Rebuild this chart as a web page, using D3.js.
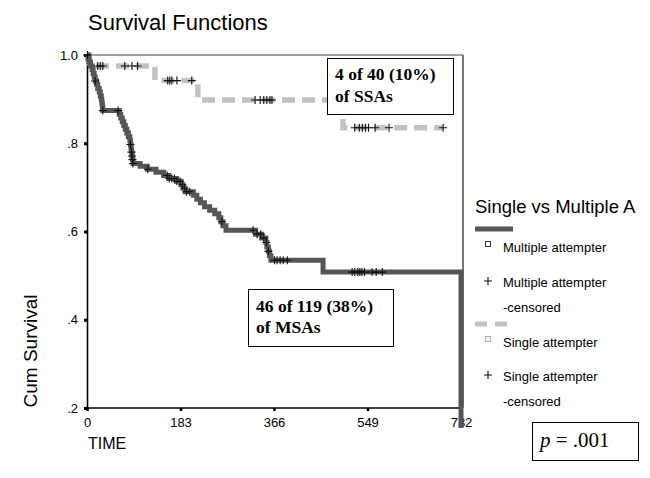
<!DOCTYPE html>
<html>
<head>
<meta charset="utf-8">
<script src="https://cdn.jsdelivr.net/npm/d3@7"></script>
<style>
  html, body { margin: 0; padding: 0; background: #fff; }
  svg { display: block; }
  text { font-family: "Liberation Sans", Arial, sans-serif; fill: #000; }
  .serif { font-family: "Liberation Serif", "Times New Roman", serif; }
</style>
</head>
<body>
<svg id="chart" width="650" height="478"></svg>
<script>
// Kaplan–Meier steps: [day, cumulative survival after the event]
const msaSteps = [
  [0, 1.000],
  [2, 0.992], [4, 0.984], [7, 0.975], [10, 0.967], [12, 0.958], [14, 0.950],
  [16, 0.941], [19, 0.933], [21, 0.924], [24, 0.916], [26, 0.907], [28, 0.899],
  [29, 0.891], [30, 0.882], [31, 0.874],
  [63, 0.866], [66, 0.857], [69, 0.849], [72, 0.840], [75, 0.832], [78, 0.823],
  [81, 0.815], [84, 0.806], [85, 0.797], [86, 0.789], [87, 0.780], [88, 0.771],
  [89, 0.763], [90, 0.754],
  [104, 0.748], [118, 0.741], [135, 0.734], [150, 0.727], [160, 0.720], [175, 0.714],
  [184, 0.706], [188, 0.698], [192, 0.690], [208, 0.682], [215, 0.673], [222, 0.665],
  [230, 0.656], [240, 0.648], [250, 0.640], [258, 0.631], [262, 0.622], [266, 0.613],
  [272, 0.603],
  [330, 0.594], [342, 0.585], [350, 0.575], [352, 0.565], [355, 0.555], [357, 0.545],
  [360, 0.535],
  [462, 0.508],
  [732, 0.000]
];
const msaCensored = [
  1, 16, 31, 61, 85, 87, 88, 89, 90, 119, 157, 161, 166, 171, 176, 182,
  187, 191, 195, 201, 264, 325, 333, 340, 346, 351, 355, 367, 372, 378,
  384, 392, 519, 524, 530, 534, 538, 543, 558, 566, 578
];

const ssaSteps = [
  [0, 1.000], [5, 0.975], [133, 0.942], [217, 0.898], [501, 0.835], [697, 0.835]
];
const ssaCensored = [
  1, 21, 26, 31, 74, 88, 99, 158, 162, 166, 176, 205,
  329, 339, 346, 352, 358, 362, 524, 533, 539, 545, 551, 564, 591, 697
];

const xTicks = [0, 183, 366, 549, 732];
const yTicks = [0.2, 0.4, 0.6, 0.8, 1.0];
const yTickLabels = [".2", ".4", ".6", ".8", "1.0"];

const legendItems = [
  { kind: "line", series: "msa" },
  { kind: "square", series: "msa", lines: ["Multiple attempter"] },
  { kind: "plus", series: "msa", lines: ["Multiple attempter", "-censored"] },
  { kind: "line", series: "ssa" },
  { kind: "square", series: "ssa", lines: ["Single attempter"] },
  { kind: "plus", series: "ssa", lines: ["Single attempter", "-censored"] }
];

const colors = { msa: "#565656", ssa: "#c2c2c2" };

const svg = d3.select("#chart");

const x = d3.scaleLinear().domain([0, 732]).range([87, 461]);
const y = d3.scaleLinear().domain([0.2, 1.0]).range([408, 55]);

// Title
svg.append("text").attr("x", 88).attr("y", 30)
  .style("font-size", "22px").text("Survival Functions");

// Frame: top and right edges
svg.append("line").attr("x1", 87).attr("x2", 463).attr("y1", 55).attr("y2", 55)
  .attr("stroke", "#444").attr("stroke-width", 1.2);
svg.append("line").attr("x1", 463).attr("x2", 463).attr("y1", 55).attr("y2", 408)
  .attr("stroke", "#555").attr("stroke-width", 1.6);

// Axes
const yAxis = d3.axisLeft(y).tickValues(yTicks)
  .tickFormat((d, i) => yTickLabels[i]).tickSize(3).tickPadding(6);
const gy = svg.append("g").attr("transform", "translate(87,0)").call(yAxis);
gy.select(".domain").attr("stroke", "#000").attr("stroke-width", 1.6);
gy.selectAll(".tick line").attr("stroke", "#000").attr("stroke-width", 3);
gy.selectAll(".tick text").style("font-size", "13px")
  .style("font-family", "'Liberation Sans', Arial, sans-serif");

const xAxis = d3.axisBottom(x).tickValues(xTicks).tickSize(3).tickPadding(7)
  .tickFormat(d3.format("d"));
const gx = svg.append("g").attr("transform", "translate(0,408)").call(xAxis);
gx.select(".domain").attr("stroke", "#000").attr("stroke-width", 1.6)
  .attr("d", "M87,0H463");
gx.selectAll(".tick line").attr("stroke", "#000").attr("stroke-width", 2.5);
gx.selectAll(".tick text").style("font-size", "13px")
  .style("font-family", "'Liberation Sans', Arial, sans-serif");

// Axis titles
svg.append("text").attr("transform", "translate(37,351) rotate(-90)")
  .attr("text-anchor", "middle").style("font-size", "19px").text("Cum Survival");
svg.append("text").attr("x", 88).attr("y", 449)
  .style("font-size", "16px").text("TIME");

// Clip the curves to the plotting region (slightly below the axis)
svg.append("clipPath").attr("id", "plotClip")
  .append("rect").attr("x", 80).attr("y", 45).attr("width", 395).attr("height", 383);

const stepLine = d3.line().x(d => x(d[0])).y(d => y(d[1])).curve(d3.curveStepAfter);
const survAt = (steps, t) => {
  let s = steps[0][1];
  for (const [d, v] of steps) { if (d <= t) s = v; else break; }
  return s;
};

const plot = svg.append("g").attr("clip-path", "url(#plotClip)");

// Single attempters: light dashed curve
plot.append("path").datum(ssaSteps).attr("d", stepLine)
  .attr("fill", "none").attr("stroke", colors.ssa).attr("stroke-width", 5.5)
  .attr("stroke-dasharray", "13,7");

// Multiple attempters: dark solid curve
plot.append("path").datum(msaSteps).attr("d", stepLine)
  .attr("fill", "none").attr("stroke", colors.msa).attr("stroke-width", 5);

// Censoring marks
const plus = (g, cx, cy, r) => {
  g.append("path").attr("d", `M${cx - r},${cy}H${cx + r}M${cx},${cy - r}V${cy + r}`)
    .attr("stroke", "#111").attr("stroke-width", 1.1).attr("fill", "none");
};
const marks = plot.append("g");
ssaCensored.forEach(t => plus(marks, x(t), y(survAt(ssaSteps, t)), 4));
msaCensored.forEach(t => plus(marks, x(t), y(survAt(msaSteps, t)), 4));

// Annotation boxes
function noteBox(x0, y0, w, h, lines, size, baselines, tx) {
  const g = svg.append("g");
  g.append("rect").attr("x", x0).attr("y", y0).attr("width", w).attr("height", h)
    .attr("fill", "#fff").attr("stroke", "#000").attr("stroke-width", 1);
  lines.forEach((t, i) => {
    g.append("text").attr("class", "serif").attr("x", tx).attr("y", baselines[i])
      .style("font-size", size + "px").style("font-weight", "bold").text(t);
  });
}
noteBox(327.5, 58.5, 126, 56, ["4 of 40 (10%)", "of SSAs"], 17.5, [80, 102], 335);
noteBox(248.5, 289.5, 145, 57, ["46 of 119 (38%)", "of MSAs"], 17.5, [312, 333], 256);

// p-value box
svg.append("rect").attr("x", 532.5).attr("y", 422.5).attr("width", 106).attr("height", 38)
  .attr("fill", "#fff").attr("stroke", "#000").attr("stroke-width", 1);
const pt = svg.append("text").attr("class", "serif").attr("x", 540).attr("y", 447)
  .style("font-size", "21px");
pt.append("tspan").style("font-style", "italic").text("p");
pt.append("tspan").text(" = .001");

// Legend
const lg = svg.append("g");
lg.append("text").attr("x", 475).attr("y", 213).style("font-size", "18.5px")
  .text("Single vs Multiple A");
const rowY = [229, 244, 281, 324, 339, 375];
legendItems.forEach((it, i) => {
  const yy = rowY[i];
  const c = colors[it.series];
  if (it.kind === "line") {
    lg.append("line").attr("x1", 475).attr("x2", 513).attr("y1", yy).attr("y2", yy)
      .attr("stroke", c).attr("stroke-width", 5)
      .attr("stroke-dasharray", it.series === "ssa" ? "12,8" : null);
  } else if (it.kind === "square") {
    lg.append("rect").attr("x", 485.5).attr("y", yy - 2.5).attr("width", 5).attr("height", 5)
      .attr("fill", "#fff").attr("stroke", it.series === "msa" ? "#333" : "#aaa").attr("stroke-width", 1);
    lg.append("text").attr("x", 503).attr("y", yy + 8).style("font-size", "13px").text(it.lines[0]);
  } else {
    plus(lg, 488, yy, 4);
    it.lines.forEach((t, k) => {
      lg.append("text").attr("x", 503).attr("y", yy + 6 + k * 24.5).style("font-size", "13px").text(t);
    });
  }
});
</script>
</body>
</html>
